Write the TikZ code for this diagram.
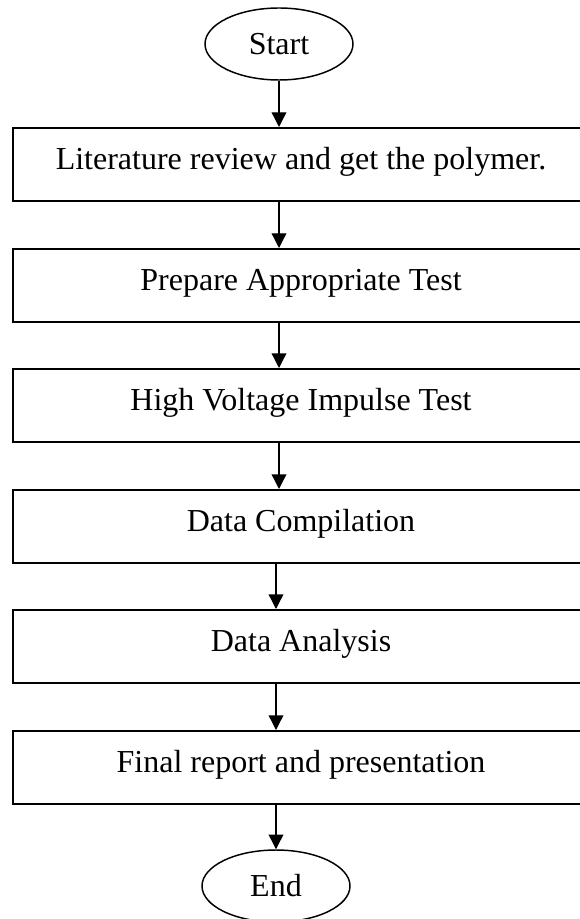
\documentclass[tikz,border=0pt]{standalone}
\usepackage{fontspec}
\setmainfont{Liberation Serif}
\usetikzlibrary{arrows.meta,shapes.geometric}

\begin{document}
\begin{tikzpicture}[
  x=0.75pt,y=-0.75pt,
  >=Triangle,
  stepbox/.style={draw=black,line width=1.5pt,rectangle,inner sep=0pt,
    minimum width=432pt,minimum height=54.75pt,
    text height=17pt,text depth=9.5pt,font=\fontsize{24}{28}\selectfont},
  terminal/.style={draw=black,line width=1.1pt,ellipse,inner sep=0pt,
    minimum width=111pt,minimum height=54pt,font=\fontsize{24}{28}\selectfont},
  flow/.style={draw=black,line width=1pt,-{Triangle[length=11pt,width=11pt]}}
]
  % Page frame of the scanned chart; the boxes run past its right edge.
  \clip (0,0) rectangle (580,919);

  % Start and end of the procedure.
  \node[terminal] (start) at (279,44) {Start};
  \node[terminal] (end) at (276,886) {End};

  % Work steps, one box each.
  \node[stepbox] (review)  at (301,164.5) {Literature review and get the polymer.};
  \node[stepbox] (prepare) at (301,285.5) {Prepare Appropriate Test};
  \node[stepbox] (impulse) at (301,405.5) {High Voltage Impulse Test};
  \node[stepbox] (compile) at (301,526.5) {Data Compilation};
  \node[stepbox] (analyse) at (301,646.5) {Data Analysis};
  \node[stepbox] (report)  at (301,767.5) {Final report and presentation};

  % Flow from one step to the next.
  \draw[flow] (start.south) -- (start.south |- review.north);
  \draw[flow] (review.south -| start) -- (prepare.north -| start);
  \draw[flow] (prepare.south -| start) -- (impulse.north -| start);
  \draw[flow] (impulse.south -| start) -- (compile.north -| start);
  \draw[flow] (compile.south -| end) -- (analyse.north -| end);
  \draw[flow] (analyse.south -| end) -- (report.north -| end);
  \draw[flow] (report.south -| end) -- (end);
\end{tikzpicture}
\end{document}
